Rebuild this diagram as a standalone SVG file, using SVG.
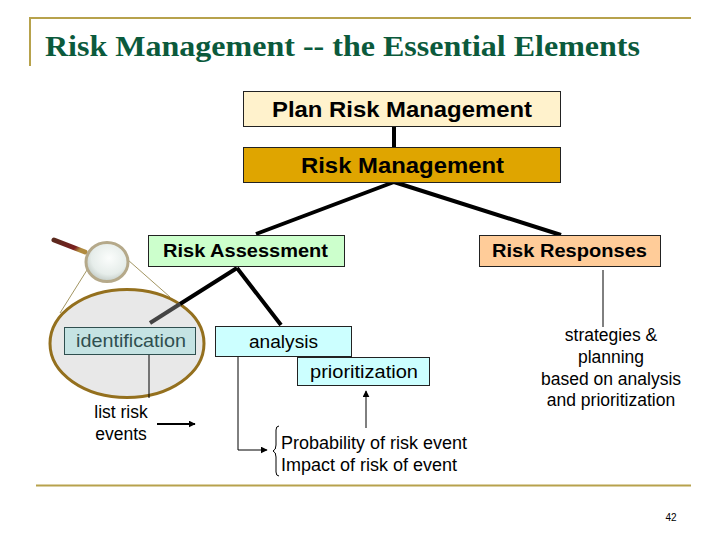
<svg xmlns="http://www.w3.org/2000/svg" width="720" height="540" viewBox="0 0 720 540">
<defs>
<linearGradient id="handle" x1="0" y1="0" x2="1" y2="0.4"><stop offset="0" stop-color="#5a2a1e"/><stop offset="0.8" stop-color="#7a1f1f"/><stop offset="1" stop-color="#b08a3e"/></linearGradient>
<radialGradient id="lens" cx="0.55" cy="0.4" r="0.6"><stop offset="0" stop-color="#fbfdfc"/><stop offset="0.7" stop-color="#e6edea"/><stop offset="1" stop-color="#c4cdc8"/></radialGradient>
<marker id="arr" viewBox="0 0 10 10" refX="9" refY="5" markerWidth="7" markerHeight="7" markerUnits="userSpaceOnUse" orient="auto" preserveAspectRatio="none"><path d="M0 0L10 5L0 10Z" fill="#000"/></marker>
</defs>
<style>
text{font-family:"Liberation Sans",Arial,sans-serif;fill:#000}
.box{stroke:#222;stroke-width:1}
.t22{font-size:22px;font-weight:bold}
.t18b{font-size:18px;font-weight:bold}
.t18{font-size:17.5px;text-anchor:middle}
.sp{font-size:17.5px}
.prob{font-size:17.5px}
.thick{stroke:#000;stroke-width:4;fill:none}
.thin{stroke:#000;stroke-width:1;fill:none}
.gold{stroke:#b7a24c;stroke-width:2;fill:none}
</style>
<rect width="720" height="540" fill="#fff"/>
<g id="frame">
<path class="gold" d="M30 66V18H691"/>
<path class="gold" d="M36 485.500H691"/>
<text x="45" y="56" textLength="595" lengthAdjust="spacingAndGlyphs" style="font-family:'Liberation Serif',serif;font-size:30px;font-weight:bold;fill:#0b5a3c">Risk Management -- the Essential Elements</text>
<text x="671" y="521" style="font-size:10px;text-anchor:middle">42</text>
</g>
<g id="magnifier">
<path d="M60 313L87 270M128 260L170 297" stroke="#8a7a3a" stroke-width="0.8" fill="none"/>
<ellipse cx="127" cy="343.500" rx="77" ry="54" fill="#e8e8e8" stroke="#94701e" stroke-width="3"/>
<path d="M54 240L85 252" stroke="url(#handle)" stroke-width="5" stroke-linecap="round"/>
<ellipse cx="107" cy="262" rx="21" ry="19.500" fill="url(#lens)" stroke="#b5a98a" stroke-width="3"/>
</g>
<g id="connectors">
<path class="thick" d="M394 126V148"/>
<path class="thick" d="M394 182L256 234M394 182L561 235"/>
<path class="thick" d="M237 268L180 304M237 268L281 325"/>
<path d="M180 304L150 323" fill="none" stroke="#444" stroke-width="4"/>
<path class="thin" d="M149 354V398" stroke="#333"/>
<path class="thin" stroke="#333" d="M603 270V327"/>
<path class="thin" d="M157 424H195" style="stroke-width:2" marker-end="url(#arr)"/>
<path class="thin" d="M238 356V450H267" marker-end="url(#arr)"/>
<path class="thin" d="M366 428V391" marker-end="url(#arr)"/>
<path class="thin" d="M279 426Q276 426 276 430V445Q276 450 273 451Q276 452 276 457V472Q276 476 279 476"/>
</g>
<g id="plan"><rect class="box" x="243.500" y="91.500" width="317" height="35" fill="#fff2cc"/><text class="t22" x="272" y="117" textLength="260" lengthAdjust="spacingAndGlyphs">Plan Risk Management</text></g>
<g id="risk-management"><rect class="box" x="243.500" y="147.500" width="317" height="35" fill="#dfa500"/><text class="t22" x="301" y="173" textLength="203" lengthAdjust="spacingAndGlyphs">Risk Management</text></g>
<g id="assessment"><rect class="box" x="148.500" y="235.500" width="196" height="31" fill="#ccffcc"/><text class="t18b" x="163" y="257" textLength="165" lengthAdjust="spacingAndGlyphs">Risk Assessment</text></g>
<g id="responses"><rect class="box" x="479.500" y="235.500" width="181" height="31" fill="#ffcc99"/><text class="t18b" x="492" y="257" textLength="155" lengthAdjust="spacingAndGlyphs">Risk Responses</text></g>
<g id="identification"><rect x="64.500" y="327.500" width="131" height="27" fill="#c5e3e3" stroke="#2f4f4f"/><text class="sp" x="76" y="347" textLength="110" lengthAdjust="spacingAndGlyphs" style="fill:#2f4f4f">identification</text></g>
<g id="analysis"><rect class="box" x="215.500" y="326.500" width="136" height="30" fill="#ccffff"/><text class="sp" x="249" y="348" textLength="69" lengthAdjust="spacingAndGlyphs">analysis</text></g>
<g id="prioritization"><rect class="box" x="297.500" y="357.500" width="132" height="28" fill="#ccffff"/><text class="sp" x="310" y="378" textLength="108" lengthAdjust="spacingAndGlyphs">prioritization</text></g>
<g id="list-risk"><text class="t18" x="121" y="418">list risk</text><text class="t18" x="121" y="440">events</text></g>
<g id="strategies"><text class="t18" x="611" y="341">strategies &amp;</text><text class="t18" x="611" y="363">planning</text><text class="t18" x="611" y="385">based on analysis</text><text class="t18" x="611" y="406">and prioritization</text></g>
<g id="probability"><text class="prob" x="281" y="449" textLength="186" lengthAdjust="spacingAndGlyphs">Probability of risk event</text><text class="prob" x="281" y="471" textLength="176" lengthAdjust="spacingAndGlyphs">Impact of risk of event</text></g>
</svg>
